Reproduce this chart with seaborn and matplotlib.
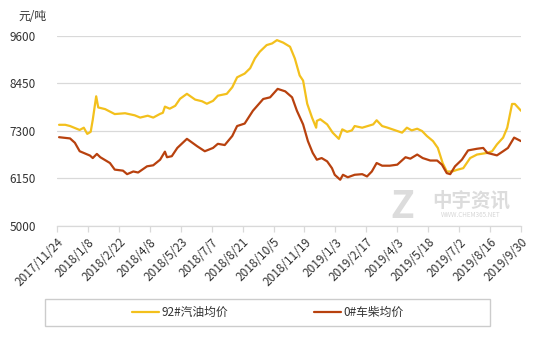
import matplotlib
matplotlib.use("Agg")
import matplotlib.pyplot as plt
import seaborn as sns
import pandas as pd
import numpy as np
from matplotlib.lines import Line2D
from matplotlib.patches import Rectangle

gas_dates = ["2017-11-27","2017-12-06","2017-12-13","2017-12-27","2018-01-02","2018-01-07","2018-01-12","2018-01-15","2018-01-20","2018-01-23",
             "2018-02-02","2018-02-16","2018-03-03","2018-03-17","2018-03-25","2018-04-05","2018-04-13","2018-04-23","2018-04-27","2018-04-30",
             "2018-05-07","2018-05-15","2018-05-22","2018-06-01","2018-06-13","2018-06-23","2018-06-30","2018-07-09","2018-07-16","2018-07-29",
             "2018-08-06","2018-08-13","2018-08-24","2018-09-01","2018-09-08","2018-09-15","2018-09-25","2018-10-03","2018-10-10","2018-10-19",
             "2018-10-29","2018-11-05","2018-11-12","2018-11-17","2018-11-23","2018-11-30","2018-12-06","2018-12-07","2018-12-12","2018-12-22",
             "2018-12-30","2019-01-08","2019-01-13","2019-01-20","2019-01-27","2019-01-31","2019-02-11","2019-02-19","2019-02-27","2019-03-04",
             "2019-03-12","2019-03-20","2019-04-03","2019-04-10","2019-04-17","2019-04-24","2019-05-02","2019-05-09","2019-05-16","2019-05-25",
             "2019-06-01","2019-06-08","2019-06-14","2019-06-22","2019-06-29","2019-07-08","2019-07-18","2019-07-28","2019-08-12","2019-08-19",
             "2019-08-26","2019-09-04","2019-09-10","2019-09-17","2019-09-21","2019-09-30"]
gas_values = [7450,7450,7420,7325,7380,7230,7280,7570,8140,7870,
              7830,7710,7730,7680,7625,7670,7625,7715,7740,7890,
              7840,7910,8080,8200,8060,8020,7960,8030,8155,8200,
              8360,8600,8690,8820,9060,9220,9380,9420,9500,9440,
              9340,9055,8645,8520,7960,7625,7380,7545,7585,7460,
              7260,7110,7340,7280,7315,7420,7380,7420,7460,7560,
              7420,7380,7300,7260,7380,7315,7355,7300,7180,7055,
              6890,6525,6320,6320,6360,6400,6645,6730,6770,6810,
              6975,7140,7380,7955,7955,7790]

diesel_dates = ["2017-11-27","2017-12-13","2017-12-20","2017-12-27","2018-01-11","2018-01-15","2018-01-21","2018-01-26","2018-02-09","2018-02-16",
                "2018-02-28","2018-03-06","2018-03-15","2018-03-22","2018-04-04","2018-04-13","2018-04-23","2018-04-30","2018-05-03","2018-05-10",
                "2018-05-18","2018-06-01","2018-06-16","2018-06-27","2018-07-09","2018-07-16","2018-07-26","2018-08-06","2018-08-13","2018-08-24",
                "2018-09-05","2018-09-20","2018-09-30","2018-10-11","2018-10-22","2018-11-01","2018-11-08","2018-11-17","2018-11-24","2018-12-01",
                "2018-12-07","2018-12-14","2018-12-22","2018-12-29","2019-01-02","2019-01-10","2019-01-14","2019-01-21","2019-01-31","2019-02-11",
                "2019-02-18","2019-02-25","2019-03-04","2019-03-12","2019-03-23","2019-04-03","2019-04-15","2019-04-22","2019-05-02","2019-05-10",
                "2019-05-21","2019-05-31","2019-06-07","2019-06-14","2019-06-19","2019-06-26","2019-07-06","2019-07-15","2019-07-28","2019-08-06",
                "2019-08-12","2019-08-26","2019-09-04","2019-09-11","2019-09-20","2019-09-30"]
diesel_values = [7150,7120,7015,6810,6705,6645,6745,6665,6525,6365,
                 6340,6255,6320,6295,6445,6470,6605,6800,6665,6690,
                 6890,7110,6930,6810,6890,6990,6960,7180,7420,7480,
                 7790,8075,8115,8320,8260,8115,7790,7460,7055,6770,
                 6605,6645,6565,6400,6240,6120,6240,6180,6240,6255,
                 6200,6320,6525,6460,6460,6485,6665,6630,6730,6645,
                 6585,6585,6485,6280,6255,6445,6605,6830,6870,6890,
                 6770,6710,6810,6890,7140,7055]

series_names = ["92#汽油均价", "0#车柴均价"]
tick_labels = ["2017/11/24","2018/1/8","2018/2/22","2018/4/8","2018/5/23","2018/7/7","2018/8/21","2018/10/5",
               "2018/11/19","2019/1/3","2019/2/17","2019/4/3","2019/5/18","2019/7/2","2019/8/16","2019/9/30"]
y_ticks = [5000, 6150, 7300, 8450, 9600]
unit_label = "元/吨"

sns.set_theme(style="white")
plt.rcParams['font.family'] = ['Noto Sans CJK SC', 'DejaVu Sans']

df = pd.concat([
    pd.DataFrame({"date": pd.to_datetime(gas_dates), "price": gas_values, "series": series_names[0]}),
    pd.DataFrame({"date": pd.to_datetime(diesel_dates), "price": diesel_values, "series": series_names[1]}),
])

W, H = 554, 338
fig = plt.figure(figsize=(W/100, H/100), dpi=100)
ax = fig.add_axes([57/W, 1-226/H, (521-57)/W, (226-36)/H])

palette = {series_names[0]: "#F3C01C", series_names[1]: "#B8410E"}
sns.lineplot(data=df, x="date", y="price", hue="series", palette=palette, linewidth=1.6, ax=ax, legend=False)

tick_dates = pd.to_datetime(tick_labels, format="%Y/%m/%d")
ax.set_xlim(tick_dates[0], tick_dates[-1])
ax.set_ylim(y_ticks[0], y_ticks[-1])
ax.set_yticks(y_ticks)
ax.set_yticklabels([str(v) for v in y_ticks], fontsize=8.5, color="#333333")
ax.set_xticks(tick_dates)
ax.set_xticklabels(tick_labels, rotation=45, ha="right", va="top", rotation_mode="anchor", fontsize=8.5, color="#333333")
ax.set_xlabel("")
ax.set_ylabel("")
ax.grid(axis="y", color="#d9d9d9", linewidth=0.9)
ax.grid(axis="x", visible=False)
for s in ["left", "right", "top"]:
    ax.spines[s].set_visible(False)
ax.spines["bottom"].set_color("#d9d9d9")
ax.spines["bottom"].set_linewidth(0.9)
ax.tick_params(axis="x", bottom=True, length=4, color="#d9d9d9", width=0.9, pad=3)
ax.tick_params(axis="y", left=False, pad=9)

fig.text(18/W, 1-16/H, unit_label, fontsize=8.5, color="#333333", va="center", ha="left")

# watermark
fig.text(402/W, 1-206/H, "Z", fontsize=28, fontweight="bold", style="italic", color="#dcdcdc", ha="center", va="center")
fig.text(471/W, 1-201/H, "中宇资讯", fontsize=14, fontweight="bold", color="#dcdcdc", ha="center", va="center")
fig.text(471/W, 1-215/H, "WWW.CHEM365.NET", fontsize=4.5, color="#d6d6d6", ha="center", va="center")

# legend box
box = Rectangle((45/W, 1-326/H), (490-45)/W, (326-299)/H, transform=fig.transFigure,
                fill=False, edgecolor="#cccccc", linewidth=1.0, zorder=5)
fig.patches.append(box)
handles = [Line2D([0], [0], color=palette[n], linewidth=1.6) for n in series_names]
leg = fig.legend(handles, series_names, loc="center", bbox_to_anchor=(268/W, 1-312.5/H), ncol=2,
                 frameon=False, fontsize=8.5, columnspacing=7.3, handlelength=2.3, handletextpad=0.2)
for t in leg.get_texts():
    t.set_color("#333333")

fig.savefig("out.png", dpi=100)
